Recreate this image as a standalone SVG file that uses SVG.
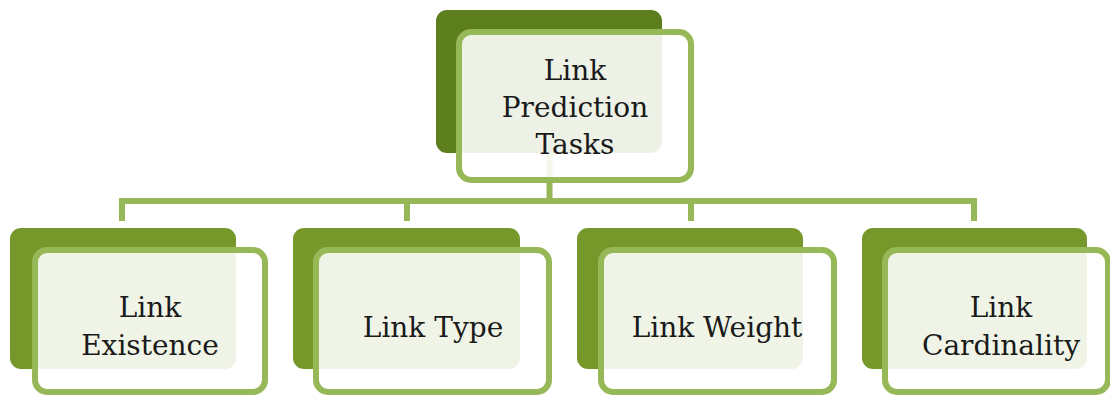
<svg xmlns="http://www.w3.org/2000/svg" width="1110" height="398" viewBox="0 0 1110 398">
<style>
.back{fill:#76982b}
.backtop{fill:#5d7e1d}
.front{fill:#ffffff;fill-opacity:0.89;stroke:#97b857;stroke-width:6}
.conn{stroke:#97b857;stroke-width:6;fill:none}
text{font-family:"DejaVu Serif","Liberation Serif",serif;font-size:28px;fill:#1a1a1a;text-anchor:middle}
</style>
<rect width="1110" height="398" fill="#ffffff"/>
<g id="connectors">
<path class="conn" d="M549.5 150 V201 M119 201 H977 M122 198 V221 M407 198 V221 M691 198 V221 M974 198 V221"/>
</g>
<g id="node-top">
<rect class="backtop" x="436" y="10" width="226" height="143" rx="11"/>
<rect class="front" x="459" y="32" width="232" height="148" rx="12"/>
<text x="575" y="80">Link</text>
<text x="575" y="117">Prediction</text>
<text x="575" y="154">Tasks</text>
</g>
<g id="node-existence">
<rect class="back" x="10" y="228" width="226" height="141" rx="11"/>
<rect class="front" x="35" y="250" width="230" height="142" rx="12"/>
<text x="150" y="317">Link</text>
<text x="150" y="355">Existence</text>
</g>
<g id="node-type">
<rect class="back" x="293" y="228" width="227" height="141" rx="11"/>
<rect class="front" x="316" y="250" width="233" height="142" rx="12"/>
<text x="433" y="337">Link Type</text>
</g>
<g id="node-weight">
<rect class="back" x="577" y="228" width="226" height="141" rx="11"/>
<rect class="front" x="601" y="250" width="233" height="142" rx="12"/>
<text x="717" y="337">Link Weight</text>
</g>
<g id="node-cardinality">
<rect class="back" x="862" y="228" width="225" height="141" rx="11"/>
<rect class="front" x="885" y="250" width="223" height="142" rx="12"/>
<text x="1001" y="317">Link</text>
<text x="1001" y="355">Cardinality</text>
</g>
</svg>
